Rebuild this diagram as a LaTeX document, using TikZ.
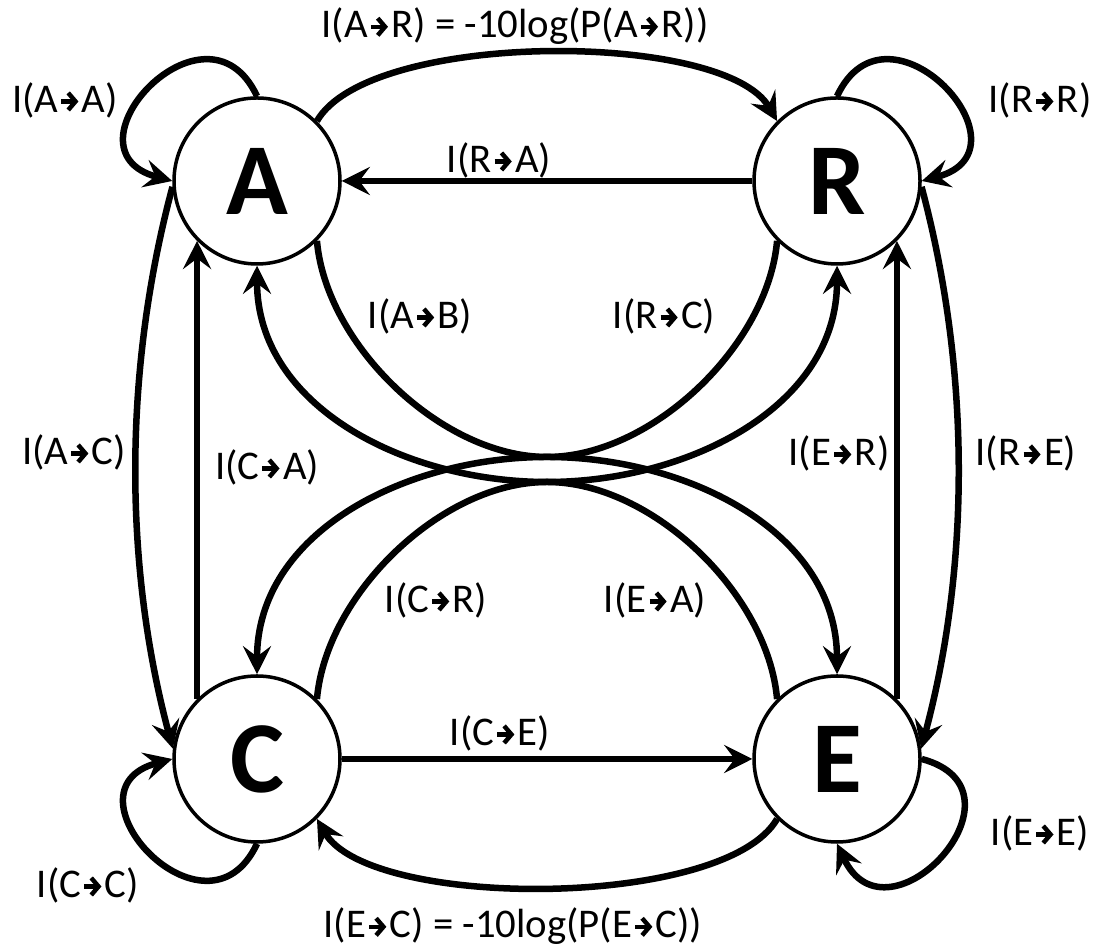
\documentclass[tikz,border=0pt]{standalone}
\usepackage{fontspec}
\setmainfont{Carlito}
\usetikzlibrary{arrows.meta}
\newcommand{\ito}{\kern0.02em\tikz[baseline=-0.26em]\draw[line width=0.11em,-{Straight Barb[length=0.18em,width=0.42em]}] (0,0) -- (0.42em,0);\kern0.03em}

\begin{document}
\begin{tikzpicture}[
    stateNode/.style={circle, draw, line width=1pt, minimum size=1.66cm, inner sep=0pt, font=\fontsize{29}{29}\selectfont\bfseries},
    edgeLine/.style={line width=1.85pt, -{Stealth[length=8pt,width=8pt,inset=3pt]}},
    edgeLabel/.style={font=\fontsize{11.6}{12}\selectfont, inner sep=1pt}
]
    \useasboundingbox (0,0) rectangle (11.01,9.51);
    \node[stateNode] (A) at (2.57,7.70) {A};
    \node[stateNode] (R) at (8.37,7.70) {R};
    \node[stateNode] (C) at (2.57,1.92) {C};
    \node[stateNode] (E) at (8.37,1.92) {E};
    \coordinate (mTop) at (5.47,4.94);
    \coordinate (mBot) at (5.47,4.69);

    % self loops
    \draw[edgeLine] (A.north) .. controls +(115:1.2) and +(165:1.2) .. (A.west);
    \draw[edgeLine] (R.north) .. controls +(65:1.2) and +(15:1.2) .. (R.east);
    \draw[edgeLine] (C.south) .. controls +(-115:1.2) and +(-165:1.2) .. (C.west);
    \draw[edgeLine] (E.east) .. controls +(-15:1.2) and +(-65:1.2) .. (E.south);

    % outer arcs and straight links
    \draw[edgeLine] (A.north east) .. controls +(60:1.05) and +(120:1.05) .. (R.north west);
    \draw[edgeLine] (E.south west) .. controls +(-120:1.05) and +(-60:1.05) .. (C.south east);
    \draw[edgeLine] (A.184) .. controls +(-105:1.9) and +(105:1.9) .. (C.173);
    \draw[edgeLine] (R.-4) .. controls +(-75:1.9) and +(75:1.9) .. (E.7);
    \draw[edgeLine] (R.west) -- (A.east);
    \draw[edgeLine] (C.east) -- (E.west);
    \draw[edgeLine] (C.north west) -- (A.south west);
    \draw[edgeLine] (E.north east) -- (R.south east);

    % crossing links
    \draw[edgeLine] (A.south east) to[out=-85,in=180,looseness=0.85] (mTop) to[out=0,in=90] (E.north);
    \draw[edgeLine] (R.south west) to[out=-95,in=0,looseness=0.85] (mTop) to[out=180,in=90] (C.north);
    \draw[edgeLine] (C.north east) to[out=85,in=180,looseness=0.85] (mBot) to[out=0,in=-90] (R.south);
    \draw[edgeLine] (E.north west) to[out=95,in=0,looseness=0.85] (mBot) to[out=180,in=-90] (A.south);

    % labels
    \node[edgeLabel] (lAA) at (0.65,8.51) {I(A\ito A)};
    \node[edgeLabel] (lRR) at (10.40,8.51) {I(R\ito R)};
    \node[edgeLabel] (lCC) at (0.88,0.66) {I(C\ito C)};
    \node[edgeLabel] (lEE) at (10.40,1.18) {I(E\ito E)};
    \node[edgeLabel] (lAR) at (5.15,9.25) {I(A\ito R) = -10log(P(A\ito R))};
    \node[edgeLabel] (lEC) at (5.13,0.25) {I(E\ito C) = -10log(P(E\ito C))};
    \node[edgeLabel] (lRA) at (4.99,7.91) {I(R\ito A)};
    \node[edgeLabel] (lCE) at (5.00,2.18) {I(C\ito E)};
    \node[edgeLabel] (lAC) at (0.74,4.99) {I(A\ito C)};
    \node[edgeLabel] (lCA) at (2.67,4.84) {I(C\ito A)};
    \node[edgeLabel] (lER) at (8.39,4.98) {I(E\ito R)};
    \node[edgeLabel] (lRE) at (10.26,4.98) {I(R\ito E)};
    \node[edgeLabel] (lAE) at (4.20,6.35) {I(A\ito B)};
    \node[edgeLabel] (lRC) at (6.64,6.35) {I(R\ito C)};
    \node[edgeLabel] (lCR) at (4.36,3.51) {I(C\ito R)};
    \node[edgeLabel] (lEA) at (6.55,3.51) {I(E\ito A)};
\end{tikzpicture}
\end{document}
